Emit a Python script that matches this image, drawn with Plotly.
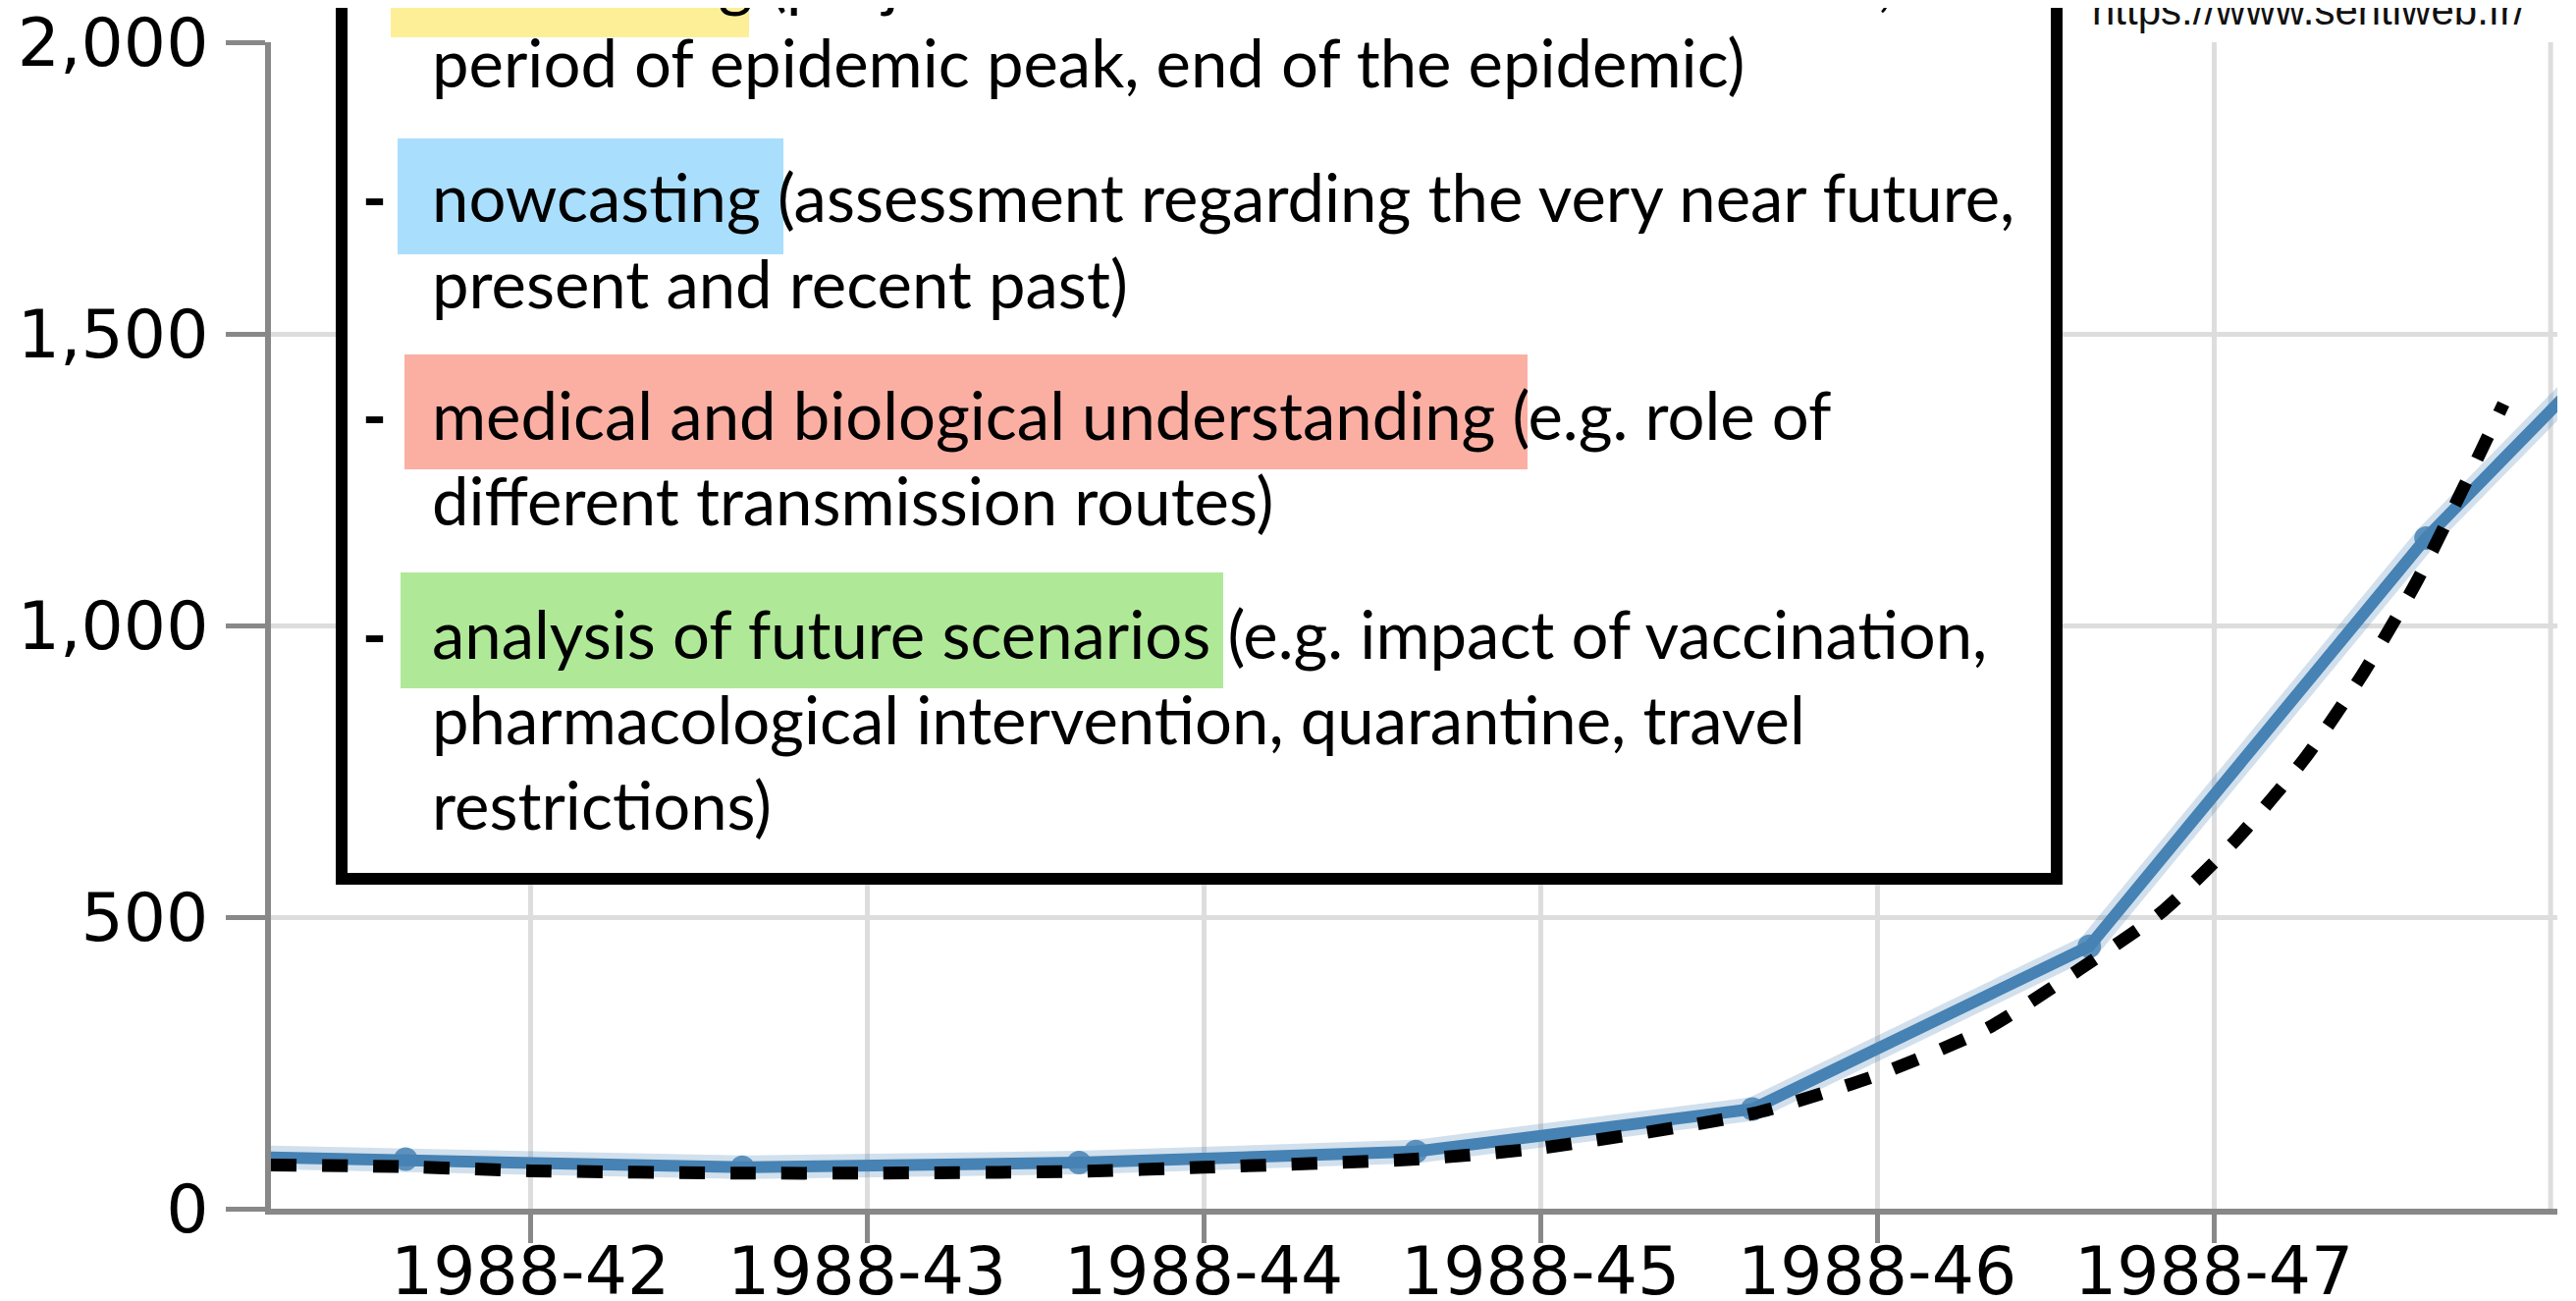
import plotly.graph_objects as go

# ---------------- data ----------------
obs_weeks = [40.63, 41.63, 42.63, 43.63, 44.63, 45.63, 46.63, 47.63, 48.63]
obs_values = [95, 85, 71, 79, 98, 171, 450, 1150, 1740]

model_weeks = [41.23, 41.63, 42.0, 42.63, 43.0, 43.63, 44.0, 44.63, 45.0, 45.63,
               46.0, 46.33, 46.6, 46.85, 47.07, 47.27, 47.44, 47.6, 47.74, 47.86]
model_values = [75, 72, 65, 61, 61, 64, 71, 85, 104, 163,
                229, 310, 410, 511, 635, 772, 915, 1073, 1235, 1380]

x_tick_weeks = [42, 43, 44, 45, 46, 47]
x_tick_labels = ["1988-42", "1988-43", "1988-44", "1988-45", "1988-46", "1988-47"]
y_tick_values = [0, 500, 1000, 1500, 2000]
y_tick_labels = ["0", "500", "1,000", "1,500", "2,000"]

source_text = "https://www.sentiweb.fr/"
box_lines = [
    "forecasting (projection of the start of the outbreak,",
    "period of epidemic peak, end of the epidemic)",
    "nowcasting (assessment regarding the very near future,",
    "present and recent past)",
    "medical and biological understanding (e.g. role of",
    "different transmission routes)",
    "analysis of future scenarios (e.g. impact of vaccination,",
    "pharmacological intervention, quarantine, travel",
    "restrictions)",
]
bullet_flags = [True, False, True, False, True, False, True, False, False]

# ---------------- layout geometry (pixels) ----------------
W, H = 2624, 1325
L, R, T, B = 268, 27, 35, 102
PW = W - L - R
PH = H - T - B


def px(x):
    return (x - L) / PW


def py(y):
    return (H - B - y) / PH


line_centers = [-30, 55, 192, 280, 414, 501, 637, 724, 811]
text_left = 430
bullet_x = 373
highlights = [  # x0, x1, y0, y1, color
    (390, 755, -100, 30, "#FDEF98"),
    (397, 790, 133, 251, "#A9DEFC"),
    (404, 1548, 353, 470, "#FBAFA3"),
    (400, 1238, 575, 693, "#AFE998"),
]

fig = go.Figure()

# halo around observed line
fig.add_trace(go.Scatter(
    x=obs_weeks, y=obs_values, mode="lines",
    line=dict(color="rgba(70,130,180,0.25)", width=24),
    hoverinfo="skip", showlegend=False))
fig.add_trace(go.Scatter(
    x=obs_weeks, y=obs_values, mode="lines+markers",
    line=dict(color="#4682B4", width=12),
    marker=dict(color="rgba(70,130,180,0.85)", size=24),
    showlegend=False))
fig.add_trace(go.Scatter(
    x=model_weeks, y=model_values, mode="lines",
    line=dict(color="black", width=13, dash="26px,26px", shape="spline", smoothing=0.6),
    showlegend=False))

shapes = []
# right edge gridline (week 48)
shapes.append(dict(type="line", xref="x", yref="paper", x0=48, x1=48, y0=0, y1=1,
                   line=dict(color="#DDDDDD", width=5), layer="below"))
# white box with black border
shapes.append(dict(type="rect", xref="paper", yref="paper",
                   x0=px(340), x1=px(2087), y0=py(887), y1=py(-80),
                   fillcolor="white", line=dict(color="black", width=12), layer="above"))
for x0, x1, y0, y1, c in highlights:
    shapes.append(dict(type="rect", xref="paper", yref="paper",
                       x0=px(x0), x1=px(x1), y0=py(y1), y1=py(y0),
                       fillcolor=c, line=dict(width=0), layer="above"))

annotations = []
box_font = dict(family="Lato", size=67, color="black")
for txt, yc, bul in zip(box_lines, line_centers, bullet_flags):
    annotations.append(dict(xref="paper", yref="paper", x=px(text_left), y=py(yc),
                            xanchor="left", yanchor="middle", text=txt,
                            showarrow=False, font=box_font))
    if bul:
        annotations.append(dict(xref="paper", yref="paper", x=px(bullet_x), y=py(yc),
                                xanchor="center", yanchor="middle", text="<b>-</b>",
                                showarrow=False, font=box_font))
annotations.append(dict(xref="paper", yref="paper", x=px(2343), y=py(3),
                        xanchor="center", yanchor="middle", text=source_text,
                        showarrow=False,
                        font=dict(family="Liberation Sans", size=42, color="#111111")))

tick_font = dict(family="DejaVu Sans", size=68, color="#000000")
fig.update_layout(
    width=W, height=H,
    margin=dict(l=L, r=R, t=T, b=B, pad=0, autoexpand=False),
    paper_bgcolor="white", plot_bgcolor="white",
    shapes=shapes, annotations=annotations,
    xaxis=dict(range=[41.23, 48.02], tickmode="array", tickvals=x_tick_weeks,
               ticktext=x_tick_labels, showgrid=True, gridcolor="#DDDDDD", gridwidth=5,
               showline=True, linecolor="#888888", linewidth=6,
               ticks="outside", ticklen=29, tickwidth=5, tickcolor="#888888",
               tickfont=tick_font, zeroline=False, ticklabelstandoff=-30,
               automargin=False, ticklabeloverflow="allow"),
    yaxis=dict(range=[0, 2000], tickmode="array", tickvals=y_tick_values,
               ticktext=y_tick_labels, showgrid=True, gridcolor="#DDDDDD", gridwidth=5,
               showline=True, linecolor="#888888", linewidth=6,
               ticks="outside", ticklen=40, tickwidth=5, tickcolor="#888888",
               tickfont=tick_font, zeroline=False, ticklabelstandoff=4,
               automargin=False, ticklabeloverflow="allow"),
)

fig.write_html("out.html")
